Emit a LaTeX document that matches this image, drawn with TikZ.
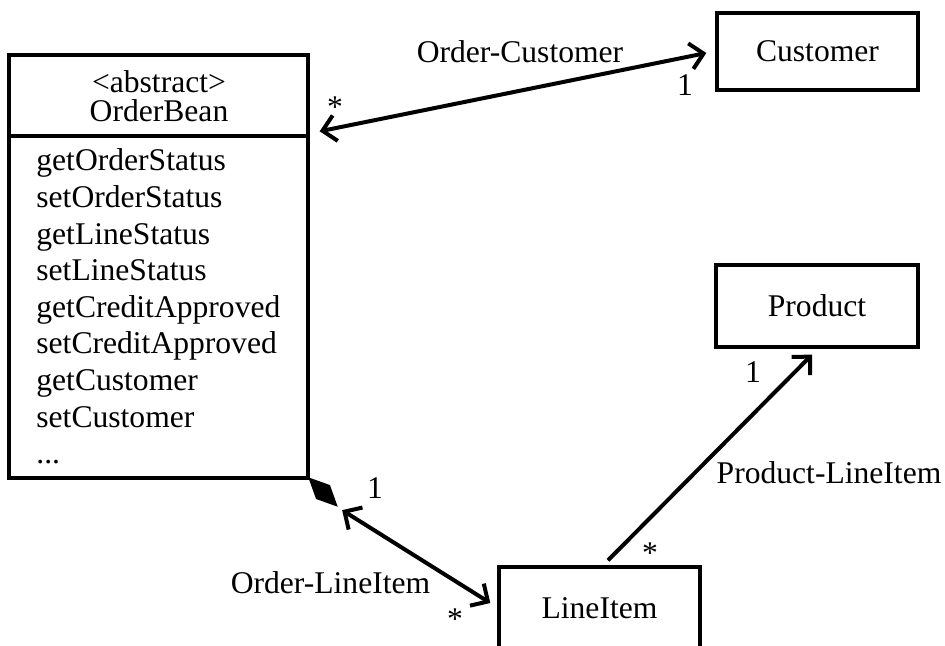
\documentclass[tikz,border=0pt]{standalone}
\usepackage{fontspec}
\setmainfont{Liberation Serif}
\usepackage{tikz}
\usetikzlibrary{
  arrows.meta, shapes.geometric,
  positioning, calc
}
\tikzset{
  classbox/.style={
    rectangle, draw=black, line width=1.7pt,
    fill=white, inner sep=0pt,
    align=center, font=\fontsize{15.8pt}{18.3pt}\selectfont
  },
  opslist/.style={
    inner sep=0pt, align=left, anchor=north west,
    font=\fontsize{15.8pt}{18.3pt}\selectfont
  },
  stereo/.style={
    inner sep=0pt, align=center, anchor=north,
    font=\fontsize{15.8pt}{14.5pt}\selectfont
  },
  comp/.style={
    diamond, fill=black, draw=none, inner sep=0pt,
    minimum width=21pt, minimum height=10pt
  },
  barb/.tip={Straight Barb[length=6.5pt,width=13pt]},
  assoc/.style={barb-barb, line width=2pt, draw=black},
  arrow/.style={-barb, line width=2pt, draw=black},
  mult/.style={inner sep=0pt, anchor=base, font=\fontsize{15.8pt}{18.3pt}\selectfont},
  rolelabel/.style={inner sep=0pt, anchor=base, font=\fontsize{15.8pt}{18.3pt}\selectfont}
}
\begin{document}
\begin{tikzpicture}[x=0.5pt, y=-0.5pt]
  \useasboundingbox (0,0) rectangle (945,645);

  % classes
  \node[classbox, minimum width=149.5pt, minimum height=211.5pt] (orderbean) at (158.5,266.5) {};
  \draw[line width=1.7pt] (orderbean.west |- 0,136) -- (orderbean.east |- 0,136);
  \node[stereo] (obhead) at (159,70.4) {<abstract>\\OrderBean};
  \node[opslist] (obops) at (36,148.5) {getOrderStatus\\setOrderStatus\\getLineStatus\\setLineStatus\\getCreditApproved\\setCreditApproved\\getCustomer\\setCustomer\\...};

  \node[classbox, minimum width=100.5pt, minimum height=38.5pt, text depth=-3pt] (customer) at (817.5,51.5) {Customer};
  \node[classbox, minimum width=101pt, minimum height=41pt] (product) at (817,306) {Product};
  \node[classbox, minimum width=100.5pt, minimum height=41pt] (lineitem) at (599.5,608) {LineItem};

  % associations
  \draw[assoc] ($(orderbean.north east)+(10,78)$) -- ($(customer.west)+(-9,1.5)$);
  \node[rolelabel] (oclabel) at (520,62) {Order-Customer};
  \node[mult] (ocmany) at (335,117) {*};
  \node[mult] (ocone) at (685,95) {1};

  \node[comp, rotate=-45] (obcomp) at (323,492) {};
  \draw[assoc] ($(obcomp.east)+(4,3)$) -- ($(lineitem.west)+(-7,-5)$);
  \node[rolelabel] (ollabel) at (330.5,593) {Order-LineItem};
  \node[mult] (olone) at (375,498) {1};
  \node[mult] (olmany) at (455,629) {*};

  \draw[arrow] ($(lineitem.north)+(8.5,-5)$) -- ($(product.south)+(-5,6)$);
  \node[rolelabel] (pllabel) at (829,483) {Product-LineItem};
  \node[mult] (plone) at (753,382) {1};
  \node[mult] (plmany) at (650,563) {*};
\end{tikzpicture}
\end{document}
